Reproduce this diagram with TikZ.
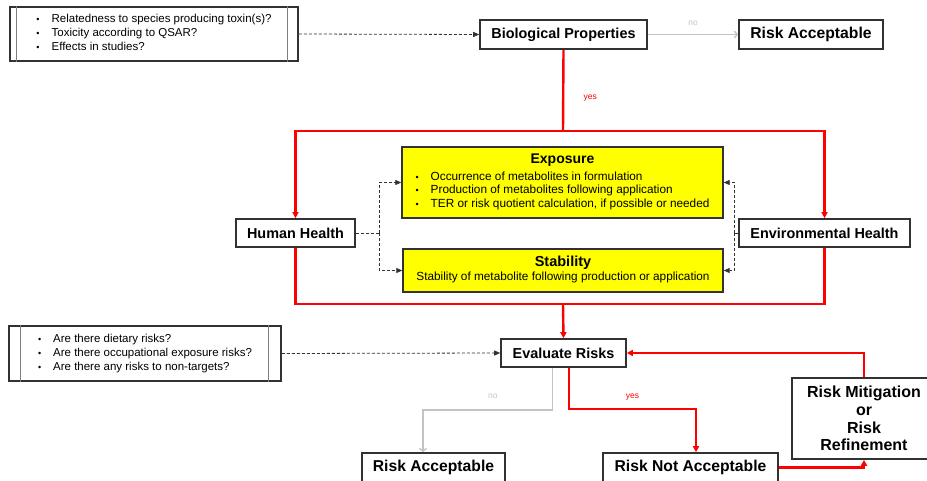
\documentclass[tikz,border=0pt]{standalone}
\usepackage{fontspec}
\setmainfont{Liberation Sans}
\usetikzlibrary{arrows.meta, positioning, calc}
\definecolor{flowred}{RGB}{255, 0, 0}
\definecolor{flowgrey}{RGB}{195, 195, 195}
\definecolor{boxedge}{RGB}{50, 50, 50}
\definecolor{exposureyellow}{RGB}{255, 255, 0}
\newcommand{\itemdot}{{\fontsize{9}{9}\selectfont\textbullet}}

\begin{document}
\begin{tikzpicture}[x=1pt, y=-1pt,
  flowbox/.style={draw=boxedge, line width=1.6pt, fill=white, inner sep=0pt, minimum height=28pt, font=\bfseries\fontsize{14.4}{17}\selectfont},
  riskbox/.style={flowbox, minimum height=29pt, font=\bfseries\fontsize{15.7}{18}\selectfont},
  notebox/.style={draw=boxedge, line width=1.6pt, fill=white, inner sep=0pt, font=\fontsize{11.5}{14}\selectfont},
  yellowbox/.style={draw=boxedge, line width=1.4pt, fill=exposureyellow, inner sep=0pt, font=\fontsize{11.8}{13.5}\selectfont},
  redflow/.style={flowred, line width=2.4pt, -{Triangle[length=6pt, width=6pt]}},
  greyflow/.style={flowgrey, line width=1.4pt, -{Straight Barb[length=3pt, width=7pt]}},
  dashflow/.style={boxedge, line width=0.8pt, densely dashed, -{Triangle[length=6pt, width=5pt]}},
  answer/.style={font=\fontsize{8.5}{10}\selectfont}]

  \clip (0,0) rectangle (927,481);

  % Screening questions and first check
  \node[notebox, minimum width=288, minimum height=54] (toxq) at (154,34) {\begin{tabular}{@{}l@{\hspace{12pt}}l@{}}
    \itemdot & Relatedness to species producing toxin(s)?\\
    \itemdot & Toxicity according to QSAR?\\
    \itemdot & Effects in studies?
  \end{tabular}};
  \node[flowbox, minimum width=167, minimum height=29] (bio) at (563.5,34.5) {Biological Properties};
  \node[riskbox, minimum width=144] (acctop) at (811,34.5) {Risk Acceptable};

  % Health checks
  \node[flowbox, minimum width=119] (human) at (295.5,233) {Human Health};
  \node[flowbox, minimum width=171] (env) at (824.5,233) {Environmental Health};

  % Exposure and stability
  \node[yellowbox, minimum width=321, minimum height=71] (exposure) at (562.5,182.5) {\begin{tabular}{@{}l@{\hspace{12pt}}l@{}}
    \multicolumn{2}{@{}c@{}}{\fontsize{14}{16}\selectfont\bfseries Exposure}\\[3pt]
    \itemdot & Occurrence of metabolites in formulation\\
    \itemdot & Production of metabolites following application\\
    \itemdot & TER or risk quotient calculation, if possible or needed
  \end{tabular}};
  \node[yellowbox, minimum width=320, minimum height=43] (stability) at (563,270.5) {\begin{tabular}{@{}c@{}}
    {\fontsize{14.5}{16}\selectfont\bfseries Stability}\\[1pt]
    Stability of metabolite following production or application
  \end{tabular}};

  % Risk evaluation
  \node[notebox, minimum width=272, minimum height=55] (riskq) at (145,353.5) {\begin{tabular}{@{}l@{\hspace{12pt}}l@{}}
    \itemdot & Are there dietary risks?\\
    \itemdot & Are there occupational exposure risks?\\
    \itemdot & Are there any risks to non-targets?
  \end{tabular}};
  \node[flowbox, minimum width=125] (evaluate) at (563.5,353) {Evaluate Risks};
  \node[riskbox, minimum width=143] (accbot) at (433.5,467.5) {Risk Acceptable};
  \node[riskbox, minimum width=175] (notacc) at (690.5,467.5) {Risk Not Acceptable};
  \node[riskbox, align=center, minimum width=144, minimum height=81, font=\bfseries\fontsize{16}{17.6}\selectfont] (mitig) at (864,418.5) {Risk Mitigation\\or\\Risk\\Refinement};

  % Side bars of the question boxes
  \foreach \q/\l/\r in {toxq/7/11, riskq/12/13} {
    \draw[black!50, line width=0.7pt] ([xshift=\l]\q.north west) -- ([xshift=\l]\q.south west);
    \draw[black!50, line width=0.7pt] ([xshift=-\r]\q.north east) -- ([xshift=-\r]\q.south east);
  }

  % Connectors at the top
  \draw[dashflow] (toxq.east) -- (bio.west);
  \draw[greyflow] (bio.east) -- (acctop.west) node[answer, midway, above=5pt, text=flowgrey] {no};
  \coordinate (topsplit) at (563,131);
  \draw[redflow, -] (bio.south) -- (topsplit) node[answer, pos=0.6, right=16pt, text=flowred] {yes};
  \draw[redflow] (topsplit) -| (human.north);
  \draw[redflow] (topsplit) -| (env.north);

  % Dashed links into the yellow boxes
  \coordinate (hsplit) at (379,233);
  \coordinate (esplit) at (734,233);
  \draw[dashflow, -] (human.east) -- (hsplit);
  \draw[dashflow] (hsplit) |- (exposure.west);
  \draw[dashflow] (hsplit) |- (stability.west);
  \draw[dashflow, -] (env.west) -- (esplit);
  \draw[dashflow] (esplit) |- (exposure.east);
  \draw[dashflow] (esplit) |- (stability.east);

  % Merge into the evaluation
  \coordinate (botsplit) at (563,304);
  \draw[redflow, -] (human.south) |- (botsplit) -| (env.south);
  \draw[redflow] (botsplit) -- (evaluate.north);
  \draw[dashflow] (riskq.east) -- (evaluate.west);

  % Outcomes
  \coordinate (nobend) at (423,410);
  \coordinate (yesbend) at (696,409);
  \draw[greyflow] ([xshift=-11pt]evaluate.south) |- (nobend) node[answer, pos=0.73, above=7pt, text=flowgrey] {no} -- (nobend |- accbot.north);
  \draw[redflow] ([xshift=5.5pt]evaluate.south) |- (yesbend) node[answer, pos=0.75, above=4pt, text=flowred] {yes} -- (yesbend |- notacc.north);
  \draw[redflow] (notacc.east) -| (mitig.south);
  \draw[redflow] (mitig.north) |- (evaluate.east);

\end{tikzpicture}
\end{document}
